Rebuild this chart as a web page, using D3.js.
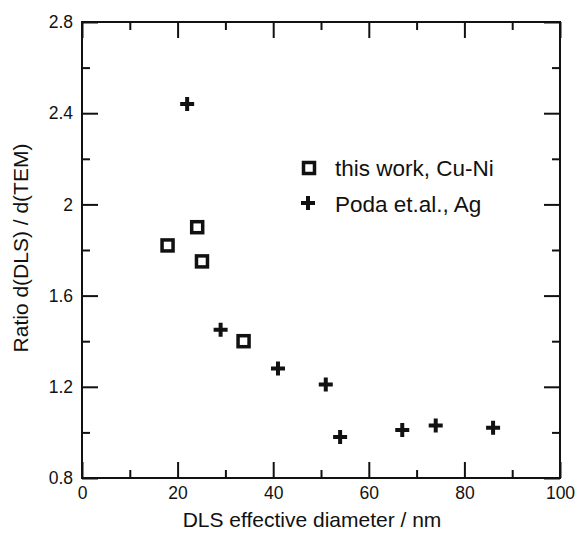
<!DOCTYPE html>
<html>
<head>
<meta charset="utf-8">
<script src="https://cdn.jsdelivr.net/npm/d3@7"></script>
<style>
  body { margin: 0; background: #fff; }
  svg { display: block; font-family: "Liberation Sans", Arial, sans-serif; }
</style>
</head>
<body>
<div id="chart"></div>
<script>
// values
const cuNiX = [17.9, 24.1, 25.1, 33.8];
const cuNiY = [1.82, 1.90, 1.75, 1.40];
const agX = [22, 29, 41, 51, 54, 67, 74, 86];
const agY = [2.44, 1.45, 1.28, 1.21, 0.98, 1.01, 1.03, 1.02];

const xMajor = [0, 20, 40, 60, 80, 100];
const xMinor = [10, 30, 50, 70, 90];
const yMajor = [0.8, 1.2, 1.6, 2.0, 2.4, 2.8];
const yMinor = [1.0, 1.4, 1.8, 2.2, 2.6];

const legendLabels = ["this work, Cu-Ni", "Poda et.al., Ag"];

const width = 576, height = 533;
const margin = {top: 22, right: 16, bottom: 55, left: 82};
const innerW = width - margin.left - margin.right;
const innerH = height - margin.top - margin.bottom;

const svg = d3.select("#chart").append("svg")
    .attr("width", width)
    .attr("height", height);

const g = svg.append("g").attr("transform", `translate(${margin.left},${margin.top})`);

const x = d3.scaleLinear().domain([0, 100]).range([0, innerW]);
const y = d3.scaleLinear().domain([0.8, 2.8]).range([innerH, 0]);

const fmt = d => String(+d.toFixed(1));

// axes, ticks pointing inward on all four sides
function drawAxis(axis, transform, labels) {
    let ax = g.append("g").attr("transform", transform).call(axis);
    ax.select(".domain").remove();
    ax.selectAll("line").attr("stroke", "#111").attr("stroke-width", 2);
    if (!labels) ax.selectAll("text").remove();
    return ax;
}

let xb = drawAxis(d3.axisBottom(x).tickValues(xMajor).tickSize(-16).tickPadding(9).tickFormat(d => d),
    `translate(0,${innerH})`, true);
xb.selectAll("text").attr("font-size", 17.5).attr("fill", "#111").attr("font-family", null);
drawAxis(d3.axisBottom(x).tickValues(xMinor).tickSize(-8), `translate(0,${innerH})`, false);
drawAxis(d3.axisTop(x).tickValues(xMajor).tickSize(-16), "translate(0,0)", false);
drawAxis(d3.axisTop(x).tickValues(xMinor).tickSize(-8), "translate(0,0)", false);

let yl = drawAxis(d3.axisLeft(y).tickValues(yMajor).tickSize(-16).tickPadding(9).tickFormat(fmt),
    "translate(0,0)", true);
yl.selectAll("text").attr("font-size", 17.5).attr("fill", "#111").attr("font-family", null);
drawAxis(d3.axisLeft(y).tickValues(yMinor).tickSize(-8), "translate(0,0)", false);
drawAxis(d3.axisRight(y).tickValues(yMajor).tickSize(-16), `translate(${innerW},0)`, false);
drawAxis(d3.axisRight(y).tickValues(yMinor).tickSize(-8), `translate(${innerW},0)`, false);

g.append("rect")
    .attr("width", innerW).attr("height", innerH)
    .attr("fill", "none").attr("stroke", "#111").attr("stroke-width", 2);

// markers
const plusPath = "M-7,0H7M0,-7V7";

g.selectAll("rect.cuni").data(cuNiX.map((d, i) => [d, cuNiY[i]]))
    .enter().append("rect")
    .attr("class", "cuni")
    .attr("x", d => x(d[0]) - 5.5).attr("y", d => y(d[1]) - 5.5)
    .attr("width", 11).attr("height", 11)
    .attr("fill", "none").attr("stroke", "#111").attr("stroke-width", 3.5);

g.selectAll("path.ag").data(agX.map((d, i) => [d, agY[i]]))
    .enter().append("path")
    .attr("class", "ag")
    .attr("d", plusPath)
    .attr("transform", d => `translate(${x(d[0])},${y(d[1])})`)
    .attr("stroke", "#111").attr("stroke-width", 4);

// legend
const legend = svg.append("g").attr("transform", "translate(309,168)");
legend.append("rect")
    .attr("x", -5.5).attr("y", -5.5).attr("width", 11).attr("height", 11)
    .attr("fill", "none").attr("stroke", "#111").attr("stroke-width", 3.5);
legend.append("path").attr("d", plusPath).attr("transform", "translate(-1,35)")
    .attr("stroke", "#111").attr("stroke-width", 4);
legend.selectAll("text").data(legendLabels).enter().append("text")
    .attr("x", 26).attr("y", (d, i) => 7.5 + i * 36)
    .attr("font-size", 22.5).attr("fill", "#111")
    .text(d => d);

// axis titles
svg.append("text")
    .attr("x", 312).attr("y", 527)
    .attr("text-anchor", "middle").attr("font-size", 21).attr("fill", "#111")
    .text("DLS effective diameter / nm");

svg.append("text")
    .attr("transform", "translate(28,248) rotate(-90)")
    .attr("text-anchor", "middle").attr("font-size", 21).attr("fill", "#111")
    .text("Ratio d(DLS) / d(TEM)");
</script>
</body>
</html>
